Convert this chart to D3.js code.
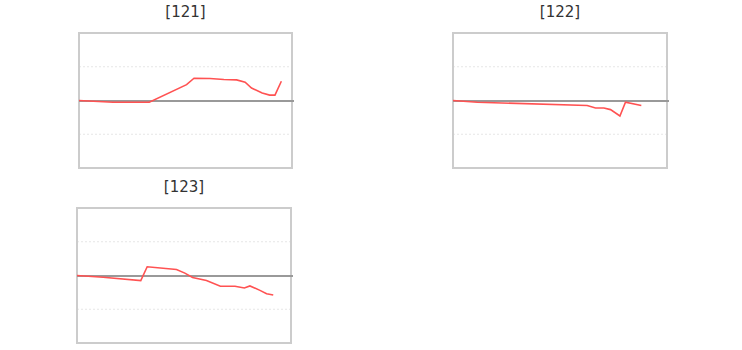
<!DOCTYPE html>
<html>
<head>
<meta charset="utf-8">
<script src="https://d3js.org/d3.v7.min.js"></script>
<style>
  body { margin: 0; background: #fff; }
  svg { display: block; }
</style>
</head>
<body>
<div id="chart"></div>
<script>
// panel titles
const titles = ["[121]", "[122]", "[123]"];

// x positions (step index, 0-100) and values for each panel
const steps121 = [0, 16, 33, 50.5, 54, 61.5, 68, 74, 78, 81, 86, 89.5, 92, 95];
const values121 = [0, -0.05, -0.05, 0.47, 0.66, 0.65, 0.62, 0.61, 0.54, 0.37, 0.22, 0.16, 0.16, 0.57];

const steps122 = [0, 11.4, 62.7, 66.6, 70.5, 73.6, 78, 80.6, 88];
const values122 = [0, -0.05, -0.15, -0.22, -0.22, -0.27, -0.46, -0.05, -0.15];

const steps123 = [0, 12.2, 29.8, 32.8, 46.5, 50.4, 54, 60.5, 67, 73.8, 78.2, 80.8, 85.5, 88.6, 91.7];
const values123 = [0, -0.05, -0.15, 0.26, 0.18, 0.07, -0.06, -0.15, -0.32, -0.32, -0.37, -0.31, -0.44, -0.54, -0.58];

const gridTicks = [-1, 1];

const panels = [
  { title: titles[0], xs: steps121, ys: values121, left: 79, top: 33, w: 213, h: 135 },
  { title: titles[1], xs: steps122, ys: values122, left: 453, top: 33, w: 214, h: 135 },
  { title: titles[2], xs: steps123, ys: values123, left: 77, top: 208, w: 214, h: 135 }
];

const svg = d3.select("#chart").append("svg")
  .attr("width", 742)
  .attr("height", 350);

panels.forEach(p => {
  const g = svg.append("g").attr("transform", `translate(${p.left},${p.top})`);

  const x = d3.scaleLinear().domain([0, 100]).range([0, p.w]);
  const y = d3.scaleLinear().domain([-2, 2]).range([p.h, 0]);

  // dotted gridlines
  g.selectAll("line.grid")
    .data(gridTicks)
    .join("line")
    .attr("class", "grid")
    .attr("x1", 0).attr("x2", p.w)
    .attr("y1", d => y(d)).attr("y2", d => y(d))
    .attr("stroke", "#e6e6e6")
    .attr("stroke-dasharray", "2,2");

  // frame
  g.append("rect")
    .attr("x", 0).attr("y", 0)
    .attr("width", p.w).attr("height", p.h)
    .attr("fill", "none")
    .attr("stroke", "#cccccc")
    .attr("stroke-width", 2);

  // zero line
  g.append("line")
    .attr("x1", 0).attr("x2", p.w + 2)
    .attr("y1", y(0) + 0.5).attr("y2", y(0) + 0.5)
    .attr("stroke", "#999999")
    .attr("stroke-width", 2);

  const line = d3.line()
    .x((d, i) => x(p.xs[i]))
    .y(d => y(d));

  g.append("path")
    .datum(p.ys)
    .attr("d", line)
    .attr("fill", "none")
    .attr("stroke", "#ff5252")
    .attr("stroke-width", 1.6);

  svg.append("text")
    .attr("x", p.left + p.w / 2)
    .attr("y", p.top - 16)
    .attr("text-anchor", "middle")
    .style("font-family", "'DejaVu Sans', sans-serif")
    .style("font-size", "15px")
    .style("fill", "#333")
    .text(p.title);
});
</script>
</body>
</html>
